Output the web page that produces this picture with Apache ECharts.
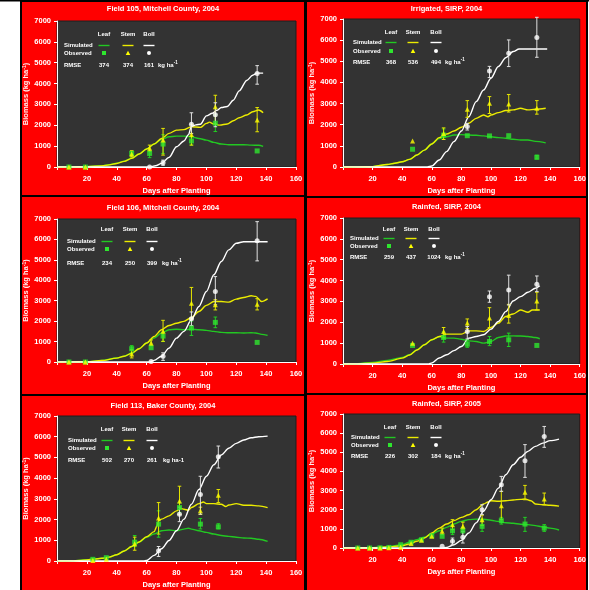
<!DOCTYPE html>
<html>
<head>
<meta charset="utf-8">
<script src="https://cdn.jsdelivr.net/npm/echarts@6/dist/echarts.min.js"></script>
<style>
  html, body { margin: 0; padding: 0; background: #ffffff; }
  #chart { width: 589px; height: 590px; }
</style>
</head>
<body>
<div id="chart"></div>
<script>
// ---- Panel titles and RMSE values (Leaf, Stem, Boll) ----
const titles = [
  'Field 105, Mitchell County, 2004',
  'Irrigated, SIRP, 2004',
  'Field 106, Mitchell County, 2004',
  'Rainfed, SIRP, 2004',
  'Field 113, Baker County, 2004',
  'Rainfed, SIRP, 2005'
];
const rmse = [
  [374, 374, 161],
  [368, 536, 494],
  [234, 250, 399],
  [259, 437, 1024],
  [502, 270, 261],
  [226, 302, 184]
];
const xTicks = { min: 0, max: 160, step: 20 };
const yTicks = { min: 0, max: 7000, step: 1000 };

// ---- Simulated biomass, [day, kg/ha] ----
const p1SimLeaf = [[0,0],[10,5],[20,15],[30,60],[35,110],[40,180],[45,280],[50,420],[55,620],[60,860],[65,1100],[70,1320],[75,1450],[80,1480],[85,1480],[90,1450],[95,1370],[100,1290],[105,1180],[110,1100],[115,1070],[120,1070],[125,1070],[130,1050],[135,1040],[138,990]];
const p1SimStem = [[0,0],[10,5],[20,15],[30,55],[35,100],[40,170],[45,270],[50,415],[55,620],[60,860],[65,1100],[70,1370],[75,1610],[80,1770],[85,1790],[90,1930],[96,1900],[100,2090],[102,2150],[105,2060],[109,2010],[114,2060],[118,2220],[122,2360],[127,2490],[131,2650],[135,2730],[138,2600]];
const p1SimBoll = [[0,0],[62,0],[66,60],[70,175],[75,460],[80,970],[85,1250],[88,1550],[90,1950],[93,2020],[96,2050],[100,2450],[104,2580],[107,2720],[110,2850],[114,2900],[118,3200],[122,3650],[127,4150],[131,4400],[134,4500],[138,4500]];

const p2SimLeaf = [[0,0],[10,5],[20,20],[30,120],[35,180],[40,250],[45,360],[50,570],[55,800],[60,1090],[65,1340],[70,1430],[75,1510],[80,1530],[85,1510],[90,1500],[95,1470],[100,1430],[105,1390],[110,1360],[115,1310],[120,1280],[125,1280],[130,1210],[137,1140]];
const p2SimStem = [[0,0],[10,5],[20,20],[30,120],[35,180],[40,250],[45,360],[50,570],[55,800],[60,1090],[65,1390],[70,1560],[75,1700],[80,1880],[85,2070],[90,2300],[95,2460],[98,2380],[100,2460],[105,2570],[110,2670],[115,2700],[120,2780],[125,2700],[130,2730],[137,2780]];
const p2SimBoll = [[0,0],[57,0],[60,50],[65,330],[70,725],[75,1200],[80,1700],[85,2380],[90,3090],[95,3640],[100,4200],[105,4750],[110,5170],[115,5460],[119,5580],[125,5580],[138,5580]];

const p3SimLeaf = [[0,0],[10,5],[20,15],[30,70],[40,195],[45,290],[50,440],[55,650],[60,930],[65,1170],[70,1420],[75,1580],[80,1600],[85,1580],[90,1600],[95,1580],[100,1550],[105,1500],[110,1450],[115,1430],[120,1430],[125,1420],[130,1430],[133,1420],[137,1350],[141,1300]];
const p3SimStem = [[0,0],[10,5],[20,15],[30,70],[40,190],[45,280],[50,430],[55,650],[60,930],[65,1250],[70,1580],[75,1790],[80,1900],[85,1990],[90,2180],[95,2470],[100,2770],[105,2960],[110,2960],[115,2930],[120,3080],[125,3160],[130,3240],[133,3210],[137,2960],[141,3090]];
const p3SimBoll = [[0,0],[62,0],[65,80],[70,280],[75,680],[80,1170],[85,1500],[90,2070],[95,2720],[100,3450],[105,4270],[110,4920],[115,5490],[120,5810],[125,5890],[141,5890]];

const p4SimLeaf = [[0,0],[10,10],[20,80],[30,175],[40,320],[45,445],[50,680],[55,920],[60,1160],[65,1300],[70,1240],[75,1240],[80,1190],[85,1110],[90,1080],[95,1000],[100,1080],[105,1270],[110,1340],[115,1350],[120,1340],[125,1320],[130,1270],[133,1210]];
const p4SimStem = [[0,0],[10,5],[20,40],[30,120],[40,280],[45,430],[50,670],[55,920],[60,1160],[65,1320],[70,1430],[75,1430],[80,1430],[85,1590],[90,1590],[95,1560],[100,1750],[105,1960],[110,2280],[115,2400],[120,2590],[125,2480],[128,2590],[133,2590]];
const p4SimBoll = [[0,0],[58,0],[60,50],[65,290],[70,445],[75,640],[80,840],[85,1240],[90,1320],[95,1400],[100,1670],[105,2040],[110,2510],[115,3020],[120,3230],[125,3440],[130,3630],[133,3750]];

const p5SimLeaf = [[0,0],[10,5],[15,30],[20,60],[25,95],[30,140],[35,190],[40,300],[45,480],[50,700],[55,910],[60,1150],[65,1300],[70,1460],[75,1500],[80,1460],[85,1540],[88,1580],[90,1540],[95,1460],[100,1380],[105,1300],[110,1230],[115,1190],[120,1150],[125,1110],[130,1100],[135,1050],[141,950]];
const p5SimStem = [[0,0],[10,5],[15,25],[20,55],[25,90],[30,130],[35,185],[40,300],[45,480],[50,700],[55,920],[60,1170],[65,1420],[67,1700],[68,1950],[70,2020],[75,2180],[80,2420],[83,2530],[85,2500],[88,2450],[90,2580],[95,2770],[98,2850],[100,2770],[105,2770],[110,2740],[113,2630],[115,2700],[120,2770],[125,2690],[130,2690],[135,2660],[141,2580]];
const p5SimBoll = [[0,0],[58,0],[60,30],[65,270],[70,590],[75,990],[80,1460],[85,2020],[90,2740],[95,3450],[100,4090],[105,4650],[110,5120],[115,5440],[120,5680],[125,5840],[130,5950],[135,6000],[141,6030]];

const p6SimLeaf = [[0,0],[10,5],[20,20],[30,70],[40,170],[45,300],[50,440],[55,560],[60,730],[65,900],[70,1080],[75,1250],[80,1390],[85,1480],[90,1510],[95,1500],[100,1450],[105,1390],[110,1320],[115,1290],[120,1240],[125,1220],[130,1170],[135,1100],[140,1040],[146,940]];
const p6SimStem = [[0,0],[10,5],[20,15],[30,50],[40,120],[45,210],[50,350],[55,520],[60,780],[65,1040],[70,1250],[75,1430],[80,1600],[85,1740],[90,2000],[95,2300],[98,2400],[100,2470],[105,2440],[110,2470],[115,2510],[120,2540],[123,2560],[127,2470],[130,2300],[135,2260],[140,2230],[146,2190]];
const p6SimBoll = [[0,0],[67,0],[70,30],[75,170],[80,400],[85,780],[90,1310],[95,1920],[100,2520],[105,3130],[110,3830],[115,4350],[120,4740],[125,5050],[130,5310],[135,5480],[140,5610],[146,5690]];

// ---- Observed biomass, [day, mean, low, high] (null = no error bar) ----
const p1ObsLeaf = [[8,0,null,null],[19,0,null,null],[50,650,520,760],[62,650,450,800],[71,1100,650,1550],[90,1250,1050,1450],[106,2100,1700,2500],[134,770,null,null]];
const p1ObsStem = [[8,0,null,null],[19,0,null,null],[50,620,480,780],[62,900,750,1050],[71,1300,570,1850],[90,1560,1050,2050],[106,2890,2090,3440],[134,2250,1690,2850]];
const p1ObsBoll = [[62,0,null,null],[71,200,80,330],[90,2050,1610,2600],[106,2500,1930,3080],[134,4480,3970,4860]];

const p2ObsLeaf = [[47,840,null,null],[68,1510,1300,1800],[84,1480,null,null],[99,1470,null,null],[112,1480,null,null],[131,460,380,560]];
const p2ObsStem = [[47,1230,null,null],[68,1590,1300,1850],[84,2730,2350,3140],[99,3010,2530,3330],[112,2980,2600,3430],[131,2780,2500,3140]];
const p2ObsBoll = [[84,1910,1750,2060],[99,4540,4230,4760],[112,5380,4750,6010],[131,6130,5190,7080]];

const p3ObsLeaf = [[8,0,null,null],[19,0,null,null],[50,650,450,800],[63,700,null,null],[71,1270,1000,1450],[90,1660,1300,2000],[106,1940,1680,2200],[134,960,null,null]];
const p3ObsStem = [[8,0,null,null],[19,0,null,null],[50,390,200,600],[63,930,800,1080],[71,1500,1010,2040],[90,2880,2100,3650],[106,2800,2550,3050],[134,2830,2550,3100]];
const p3ObsBoll = [[63,30,null,null],[71,280,80,450],[90,2120,1780,2450],[106,3450,2800,4180],[134,5930,4950,6870]];

const p4ObsLeaf = [[47,890,null,null],[68,1270,1050,1530],[84,950,800,1160],[99,1080,880,1320],[112,1160,840,1480],[131,890,null,null]];
const p4ObsStem = [[47,1000,null,null],[68,1560,1250,1750],[84,1960,1700,2160],[99,2200,1750,2700],[112,2320,1960,2860],[131,3020,2590,3440]];
const p4ObsBoll = [[84,1560,1200,1800],[99,3230,2960,3500],[112,3550,2830,4260],[131,3820,3470,4220]];

const p5ObsLeaf = [[24,80,null,null],[33,160,null,null],[52,910,700,1230],[68,1780,1150,2420],[82,2580,2350,2800],[96,1780,1550,2050],[108,1650,1550,1800]];
const p5ObsStem = [[24,30,null,null],[33,80,null,null],[52,830,520,1150],[68,2070,1300,2820],[82,2900,2250,3610],[96,2420,2250,2600],[108,3180,2820,3450]];
const p5ObsBoll = [[68,490,220,700],[82,2260,1900,2600],[96,3210,2260,4090],[108,5030,4490,5550]];

const p6ObsLeaf = [[10,0,null,null],[18,0,null,null],[25,10,null,null],[31,30,null,null],[39,170,null,null],[46,300,null,null],[53,430,null,null],[60,640,null,null],[67,610,null,null],[74,900,700,1130],[81,920,780,1080],[94,1130,870,1420],[107,1430,1250,1600],[123,1250,870,1600],[136,1040,870,1220]];
const p6ObsStem = [[10,0,null,null],[18,0,null,null],[25,0,null,null],[31,10,null,null],[39,40,null,null],[46,230,null,null],[53,400,null,null],[60,610,null,null],[67,870,700,1040],[74,1220,960,1480],[81,1130,960,1350],[94,1480,1180,1720],[107,2210,1480,2960],[123,2910,2520,3270],[136,2560,2260,2870]];
const p6ObsBoll = [[67,90,null,null],[74,350,170,520],[81,560,260,870],[94,2000,1740,2260],[107,3310,2960,3740],[123,4560,3690,5400],[136,5830,5260,6350]];

const simData = [
  [p1SimLeaf, p1SimStem, p1SimBoll],
  [p2SimLeaf, p2SimStem, p2SimBoll],
  [p3SimLeaf, p3SimStem, p3SimBoll],
  [p4SimLeaf, p4SimStem, p4SimBoll],
  [p5SimLeaf, p5SimStem, p5SimBoll],
  [p6SimLeaf, p6SimStem, p6SimBoll]
];
const obsData = [
  [p1ObsLeaf, p1ObsStem, p1ObsBoll],
  [p2ObsLeaf, p2ObsStem, p2ObsBoll],
  [p3ObsLeaf, p3ObsStem, p3ObsBoll],
  [p4ObsLeaf, p4ObsStem, p4ObsBoll],
  [p5ObsLeaf, p5ObsStem, p5ObsBoll],
  [p6ObsLeaf, p6ObsStem, p6ObsBoll]
];

// ---- Layout ----
const FONT = '"Liberation Sans", Arial, sans-serif';
const RED = '#ff0000';
const PLOT_BG = '#333333';
const LINE_COLORS = ['#22c822', '#ecec00', '#ffffff'];
const MARK_COLORS = ['#2ee62e', '#ffff00', '#ffffff'];
const ERR_COLORS = ['#22d022', '#e6e600', '#e0e0e0'];
const SYMBOLS = ['rect', 'triangle', 'circle'];
const SYMBOL_SIZES = [5, 5, 5];

// panel frame, plot rectangle, legend anchor points
const panels = [
  { box: [21, 1, 284, 195],  grid: [57, 21, 239, 146],   titleY: 9,
    leg: { simX: 64, head: 34, sim: 45, obs: 53, rmse: 65, cols: [104, 128, 149], unit: 158 } },
  { box: [306, 1, 281, 196], grid: [343, 19, 240, 148],  titleY: 9,
    leg: { simX: 353, head: 32, sim: 42, obs: 51, rmse: 62, cols: [391, 413, 436], unit: 445 } },
  { box: [21, 196, 284, 199], grid: [57, 219, 239, 143], titleY: 208,
    leg: { simX: 67, head: 229, sim: 241, obs: 249, rmse: 263, cols: [107, 130, 152], unit: 162 } },
  { box: [306, 197, 281, 197], grid: [343, 218, 240, 146], titleY: 207,
    leg: { simX: 350, head: 229, sim: 238, obs: 246, rmse: 257, cols: [389, 411, 434], unit: 445 } },
  { box: [21, 395, 284, 197], grid: [57, 416, 239, 146], titleY: 406,
    leg: { simX: 68, head: 429, sim: 440, obs: 448, rmse: 460, cols: [107, 129, 152], unit: 163 } },
  { box: [306, 394, 281, 198], grid: [343, 414, 240, 134], titleY: 404,
    leg: { simX: 351, head: 427, sim: 437, obs: 445, rmse: 456, cols: [390, 413, 436], unit: 445 } }
];
const unitPlain = [false, false, false, false, true, false];

function errorBarRenderer(color) {
  return function (params, api) {
    const lo = api.value(2), hi = api.value(3);
    if (isNaN(lo) || isNaN(hi)) return null;
    const x = api.value(0);
    const a = api.coord([x, lo]);
    const b = api.coord([x, hi]);
    const w = 1.8;
    const st = { stroke: color, lineWidth: 1 };
    return {
      type: 'group',
      children: [
        { type: 'line', shape: { x1: a[0], y1: a[1], x2: b[0], y2: b[1] }, style: st },
        { type: 'line', shape: { x1: a[0] - w, y1: a[1], x2: a[0] + w, y2: a[1] }, style: st },
        { type: 'line', shape: { x1: b[0] - w, y1: b[1], x2: b[0] + w, y2: b[1] }, style: st }
      ]
    };
  };
}

function txt(x, y, text, opt) {
  opt = opt || {};
  return {
    type: 'text', x: x, y: y, z: 100, silent: true,
    style: Object.assign({
      text: text, fill: '#ffffff',
      fontFamily: FONT, fontWeight: 'bold', fontSize: 6,
      align: opt.align || 'left', verticalAlign: 'middle',
      textAlign: opt.align || 'left', textVerticalAlign: 'middle'
    }, opt.style || {})
  };
}

const grids = [], xAxes = [], yAxes = [], series = [], graphics = [];

// top rule
graphics.push({ type: 'rect', shape: { x: 0, y: 0, width: 589, height: 1.5 }, style: { fill: '#000' }, z: 1 });

panels.forEach(function (p, i) {
  const [bx, by, bw, bh] = p.box;
  graphics.push({ type: 'rect', z: -10, shape: { x: bx, y: by, width: bw, height: bh },
    style: { fill: RED, stroke: '#000', lineWidth: 2 } });
  graphics.push(txt(bx + bw / 2, p.titleY, titles[i], { align: 'center', style: { fontSize: 7.5 } }));

  const [gl, gt, gw, gh] = p.grid;
  grids.push({ left: gl, top: gt, width: gw, height: gh, show: true,
    backgroundColor: PLOT_BG, borderColor: '#1e1e1e', borderWidth: 1, z: 0 });

  xAxes.push({
    gridIndex: i, type: 'value', min: xTicks.min, max: xTicks.max, interval: xTicks.step,
    axisLine: { lineStyle: { color: '#ffffff', width: 1 } },
    axisTick: { length: 3, lineStyle: { color: '#ffffff' } },
    splitLine: { show: false },
    axisLabel: { color: '#ffffff', fontSize: 7.5, fontWeight: 'bold', fontFamily: FONT, margin: 8,
      formatter: function (v) { return v === 0 ? '' : String(v); } },
    name: 'Days after Planting', nameLocation: 'middle', nameGap: 20,
    nameTextStyle: { color: '#ffffff', fontSize: 7.5, fontWeight: 'bold', fontFamily: FONT }
  });
  yAxes.push({
    gridIndex: i, type: 'value', min: yTicks.min, max: yTicks.max, interval: yTicks.step,
    axisLine: { show: true, lineStyle: { color: '#ffffff', width: 1 } },
    axisTick: { show: true, length: 3, lineStyle: { color: '#ffffff' } },
    splitLine: { show: false },
    axisLabel: { color: '#ffffff', fontSize: 7.5, fontWeight: 'bold', fontFamily: FONT, margin: 6,
      formatter: function (v) { return String(v); } },
    name: 'Biomass (kg ha{s|-1})', nameLocation: 'middle', nameGap: 25,
    nameTextStyle: { color: '#ffeeee', fontSize: 7.5, fontWeight: 'bold', fontFamily: FONT,
      rich: { s: { fontSize: 5, fontWeight: 'bold', color: '#ffeeee', fontFamily: FONT, verticalAlign: 'top' } } }
  });

  // simulated curves
  simData[i].forEach(function (d, k) {
    series.push({
      type: 'line', xAxisIndex: i, yAxisIndex: i, data: d, showSymbol: false,
      smooth: 0.3, smoothMonotone: 'x', silent: true, z: 2,
      lineStyle: { color: LINE_COLORS[k], width: 1.4 }
    });
  });
  // observed error bars + points
  obsData[i].forEach(function (d, k) {
    series.push({
      type: 'custom', xAxisIndex: i, yAxisIndex: i, silent: true, z: 3,
      renderItem: errorBarRenderer(ERR_COLORS[k]),
      encode: { x: 0, y: 1 },
      data: d.filter(function (r) { return r[2] !== null && r[3] !== null; })
    });
    series.push({
      type: 'scatter', xAxisIndex: i, yAxisIndex: i, silent: true, z: 4,
      symbol: SYMBOLS[k], symbolSize: SYMBOL_SIZES[k],
      itemStyle: { color: MARK_COLORS[k] },
      data: d.map(function (r) { return [r[0], r[1]]; })
    });
  });

  // legend block inside the plot
  const L = p.leg;
  ['Leaf', 'Stem', 'Boll'].forEach(function (h, k) {
    graphics.push(txt(L.cols[k], L.head, h, { align: 'center' }));
    graphics.push({ type: 'line', z: 100, silent: true,
      shape: { x1: L.cols[k] - 5.5, y1: L.sim + 0.5, x2: L.cols[k] + 5.5, y2: L.sim + 0.5 },
      style: { stroke: LINE_COLORS[k], lineWidth: 1.4 } });
    const cx = L.cols[k], cy = L.obs;
    if (k === 0) {
      graphics.push({ type: 'rect', z: 100, silent: true, shape: { x: cx - 2, y: cy - 2, width: 4, height: 4 }, style: { fill: MARK_COLORS[0] } });
    } else if (k === 1) {
      graphics.push({ type: 'polygon', z: 100, silent: true, shape: { points: [[cx, cy - 2.3], [cx - 2.3, cy + 2], [cx + 2.3, cy + 2]] }, style: { fill: MARK_COLORS[1] } });
    } else {
      graphics.push({ type: 'circle', z: 100, silent: true, shape: { cx: cx, cy: cy, r: 2 }, style: { fill: MARK_COLORS[2] } });
    }
    graphics.push(txt(L.cols[k], L.rmse, String(rmse[i][k]), { align: 'center' }));
  });
  graphics.push(txt(L.simX, L.sim, 'Simulated'));
  graphics.push(txt(L.simX, L.obs, 'Observed'));
  graphics.push(txt(L.simX, L.rmse, 'RMSE'));
  if (unitPlain[i]) {
    graphics.push(txt(L.unit, L.rmse, 'kg ha-1'));
  } else {
    graphics.push(txt(L.unit, L.rmse, 'kg ha{s|-1}', { style: {
      rich: { s: { fontSize: 4.5, fontWeight: 'bold', fill: '#ffffff', fontFamily: FONT, verticalAlign: 'top', padding: [0, 0, 4, 0] } } } }));
  }
});

const chart = echarts.init(document.getElementById('chart'), null, { renderer: 'canvas' });
chart.setOption({
  animation: false,
  backgroundColor: '#ffffff',
  grid: grids,
  xAxis: xAxes,
  yAxis: yAxes,
  series: series,
  graphic: { elements: graphics }
});
</script>
</body>
</html>
